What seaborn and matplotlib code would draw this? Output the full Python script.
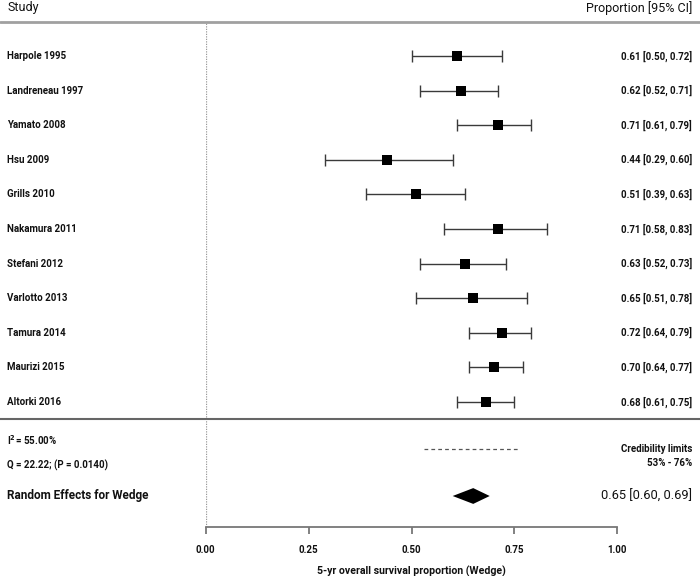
import matplotlib
matplotlib.use("Agg")
import matplotlib.pyplot as plt
import seaborn as sns
import pandas as pd
import numpy as np
from matplotlib.lines import Line2D

# ---- data ----
studies = ["Harpole 1995", "Landreneau 1997", "Yamato 2008", "Hsu 2009", "Grills 2010",
           "Nakamura 2011", "Stefani 2012", "Varlotto 2013", "Tamura 2014", "Maurizi 2015",
           "Altorki 2016"]
est = [0.61, 0.62, 0.71, 0.44, 0.51, 0.71, 0.63, 0.65, 0.72, 0.70, 0.68]
lo = [0.50, 0.52, 0.61, 0.29, 0.39, 0.58, 0.52, 0.51, 0.64, 0.64, 0.61]
hi = [0.72, 0.71, 0.79, 0.60, 0.63, 0.83, 0.73, 0.78, 0.79, 0.77, 0.75]
summary = [0.65, 0.60, 0.69]        # estimate, lower, upper
cred_limits = [0.53, 0.76]
i2_text = "55.00%"
q_text = "Q = 22.22; (P = 0.0140)"
xticks = [0.00, 0.25, 0.50, 0.75, 1.00]
xlabel = "5-yr overall survival proportion (Wedge)"

# ---- layout (pixels) ----
W, H = 700, 576
x0_px, x1_px = 205.7, 617.3
top_px, axis_px = 22, 527
row0_px, row_step = 56, 34.6
sep_px = 419

sns.set_theme(style="white")
plt.rcParams['font.family'] = ['Roboto', 'DejaVu Sans']
FW = "bold"
TXT = "#111111"
FS = 7.0

fig = plt.figure(figsize=(W / 100, H / 100), dpi=100)
ax = fig.add_axes([x0_px / W, 1 - axis_px / H, (x1_px - x0_px) / W, (axis_px - top_px) / H])
ax.set_xlim(0, 1)
ax.set_ylim(axis_px, top_px)

df = pd.DataFrame({"study": studies, "est": est, "lo": lo, "hi": hi})
df["y"] = row0_px + row_step * np.arange(len(df))

# CI lines
ax.errorbar(df["est"], df["y"], xerr=[df["est"] - df["lo"], df["hi"] - df["est"]],
            fmt="none", ecolor="#3a3a3a", elinewidth=1.0, capsize=4.3, capthick=1.0, zorder=2)
# squares
sns.scatterplot(data=df, x="est", y="y", marker="s", s=52, color="black",
                edgecolor="black", linewidth=0, ax=ax, legend=False, zorder=3)

# summary diamond
se, sl, sh = summary
ys = 496
ax.fill([sl, se, sh, se], [ys, ys - 7.9, ys, ys + 7.9], color="black", lw=0, zorder=3)
# credibility limits dashed line
ax.plot(cred_limits, [449, 449], ls=(0, (3, 2.5)), color="#555555", lw=0.9)

# reference line at 0
ax.axvline(0, color="#999999", ls=(0, (1, 1)), lw=0.9, zorder=1)

# spines
for s in ["top", "right", "left"]:
    ax.spines[s].set_visible(False)
ax.spines["bottom"].set_color("#777777")
ax.spines["bottom"].set_linewidth(1.3)
ax.set_xticks(xticks)
ax.set_xticklabels([f"{t:.2f}" for t in xticks])
ax.tick_params(axis="x", bottom=True, direction="out", length=5, width=1.3, color="#777777",
               pad=8, labelsize=FS, labelcolor=TXT)
for lab in ax.get_xticklabels():
    lab.set_fontweight(FW)
ax.set_yticks([])
ax.set_xlabel("")
ax.set_ylabel("")

def fx(px):
    return px / W

def fy(py):
    return 1 - py / H

# horizontal rules
fig.add_artist(Line2D([0, 1], [fy(22), fy(22)], color="#a0a0a0", lw=2.0))
fig.add_artist(Line2D([0, 1], [fy(sep_px), fy(sep_px)], color="#666666", lw=1.5))

# headers
fig.text(fx(7), fy(8), "Study", fontsize=9, ha="left", va="center", color=TXT)
fig.text(fx(692), fy(8), "Proportion [95% CI]", fontsize=9, ha="right", va="center", color=TXT)

# study labels and estimates
for _, r in df.iterrows():
    fig.text(fx(7), fy(r["y"]), r["study"], fontsize=FS, fontweight=FW,
             ha="left", va="center", color=TXT)
    fig.text(fx(692), fy(r["y"]), f"{r['est']:.2f} [{r['lo']:.2f}, {r['hi']:.2f}]",
             fontsize=FS, fontweight=FW, ha="right", va="center", color=TXT)

# heterogeneity
fig.text(fx(7), fy(440), r"I$^{\mathbf{2}}$= " + i2_text, fontsize=FS, fontweight=FW,
         ha="left", va="center", color=TXT)
fig.text(fx(7), fy(465), q_text, fontsize=FS, fontweight=FW,
         ha="left", va="center", color=TXT)
fig.text(fx(692), fy(449), "Credibility limits", fontsize=FS, fontweight=FW,
         ha="right", va="center", color=TXT)
fig.text(fx(692), fy(463), f"{cred_limits[0]*100:.0f}% - {cred_limits[1]*100:.0f}%",
         fontsize=FS, fontweight=FW, ha="right", va="center", color=TXT)

fig.text(fx(7), fy(496), "Random Effects for Wedge", fontsize=8.5, fontweight=FW,
         ha="left", va="center", color=TXT)
fig.text(fx(692), fy(496), f"{se:.2f} [{sl:.2f}, {sh:.2f}]", fontsize=9.3,
         ha="right", va="center", color=TXT)

fig.text(fx((x0_px + x1_px) / 2), fy(571), xlabel, fontsize=7.6, fontweight=FW,
         ha="center", va="center", color=TXT)

fig.savefig("out.png", dpi=100)
